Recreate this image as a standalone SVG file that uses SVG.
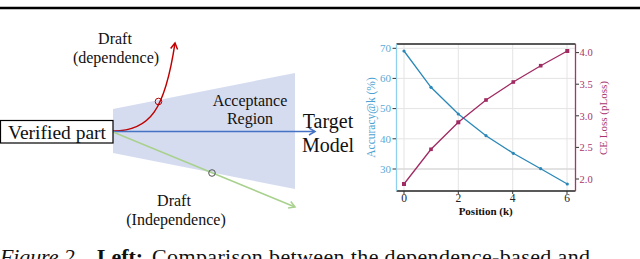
<svg xmlns="http://www.w3.org/2000/svg" width="640" height="259" viewBox="0 0 640 259">
<style>
.serif{font-family:"Liberation Serif","Times New Roman",serif;fill:#111}
.lbl{font-size:16px}
.grid{stroke:#e4e4e4;stroke-width:1}
.tl{font-family:"Liberation Serif",serif;font-size:11px;fill:#5aaad6}
.tr{font-family:"Liberation Serif",serif;font-size:10.5px;fill:#a8336e}
.acc{fill:none;stroke:#2a88b8;stroke-width:1.3}
.loss{fill:none;stroke:#a02a62;stroke-width:1.3}
</style>
<defs>
<marker id="mRed" markerWidth="10" markerHeight="10" refX="7" refY="4" orient="auto" markerUnits="userSpaceOnUse"><path d="M1,0.5 L7,4 L1,7.5" fill="none" stroke="#c00000" stroke-width="1.5"/></marker>
<marker id="mBlue" markerWidth="10" markerHeight="10" refX="7" refY="4" orient="auto" markerUnits="userSpaceOnUse"><path d="M1,0.5 L7,4 L1,7.5" fill="none" stroke="#4472c4" stroke-width="1.5"/></marker>
<marker id="mGreen" markerWidth="10" markerHeight="10" refX="7" refY="4" orient="auto" markerUnits="userSpaceOnUse"><path d="M1,0.5 L7,4 L1,7.5" fill="none" stroke="#a9d18e" stroke-width="1.5"/></marker>
</defs>
<rect width="640" height="259" fill="#fff"/>
<line x1="0" y1="8" x2="640" y2="8" stroke="#000" stroke-width="2.5"/>

<g id="acceptance-region">
<polygon points="113,109 295,73 295,189 113,153" fill="#d6dcf0"/>
<text class="serif lbl" x="250" y="106" text-anchor="middle">Acceptance</text>
<text class="serif lbl" x="250" y="124" text-anchor="middle">Region</text>
</g>

<g id="connectors">
<path d="M113,131 C150,131 165,110 175,43" fill="none" stroke="#c00000" stroke-width="1.5" marker-end="url(#mRed)"/>
<line x1="113" y1="131.5" x2="315" y2="131.5" stroke="#4472c4" stroke-width="1.5" marker-end="url(#mBlue)"/>
<line x1="113" y1="132" x2="295" y2="207" stroke="#a9d18e" stroke-width="1.5" marker-end="url(#mGreen)"/>
<circle cx="158.5" cy="101.5" r="3.3" fill="none" stroke="#c00000" stroke-width="1"/>
<circle cx="212" cy="173" r="3.3" fill="none" stroke="#555" stroke-width="1"/>
</g>

<g id="verified-part">
<rect x="0.5" y="120.5" width="112.5" height="22.5" fill="#fff" stroke="#000" stroke-width="1.2"/>
<text class="serif" x="57" y="139.3" font-size="19.5" text-anchor="middle">Verified part</text>
</g>

<g id="draft-dependence">
<text class="serif lbl" x="115" y="44" text-anchor="middle">Draft</text>
<text class="serif lbl" x="116" y="63" text-anchor="middle">(dependence)</text>
</g>

<g id="draft-independence">
<text class="serif lbl" x="174" y="206" text-anchor="middle">Draft</text>
<text class="serif lbl" x="176" y="225" text-anchor="middle">(Independence)</text>
</g>

<g id="target-model">
<text class="serif" x="328" y="128" font-size="20" text-anchor="middle">Target</text>
<text class="serif" x="328" y="151.5" font-size="20" text-anchor="middle">Model</text>
</g>

<g id="chart">
<g class="grid">
<line x1="404" y1="44" x2="404" y2="191"/>
<line x1="458.3" y1="44" x2="458.3" y2="191"/>
<line x1="512.7" y1="44" x2="512.7" y2="191"/>
<line x1="567" y1="44" x2="567" y2="191"/>
<line x1="397" y1="48.3" x2="575" y2="48.3"/>
<line x1="397" y1="78.4" x2="575" y2="78.4"/>
<line x1="397" y1="108.6" x2="575" y2="108.6"/>
<line x1="397" y1="138.8" x2="575" y2="138.8"/>
<line x1="397" y1="169" x2="575" y2="169" stroke="#d8d8d8" stroke-width="1.5"/>
</g>
<line x1="396.5" y1="44" x2="575.5" y2="44" stroke="#222" stroke-width="1.5"/>
<line x1="396.5" y1="191" x2="575.5" y2="191" stroke="#222" stroke-width="1.5"/>
<line x1="396.5" y1="44" x2="396.5" y2="191" stroke="#8fd0ee" stroke-width="1.3"/>
<line x1="575.5" y1="44" x2="575.5" y2="191" stroke="#a8336e" stroke-width="1.3"/>
<g stroke="#333" stroke-width="1">
<line x1="392.5" y1="48.3" x2="396" y2="48.3"/>
<line x1="392.5" y1="78.4" x2="396" y2="78.4"/>
<line x1="392.5" y1="108.6" x2="396" y2="108.6"/>
<line x1="392.5" y1="138.8" x2="396" y2="138.8"/>
<line x1="392.5" y1="169" x2="396" y2="169"/>
<line x1="576" y1="52.6" x2="579" y2="52.6"/>
<line x1="576" y1="84.2" x2="579" y2="84.2"/>
<line x1="576" y1="115.8" x2="579" y2="115.8"/>
<line x1="576" y1="147.4" x2="579" y2="147.4"/>
<line x1="576" y1="179" x2="579" y2="179"/>
<line x1="404" y1="191" x2="404" y2="194"/>
<line x1="458.3" y1="191" x2="458.3" y2="194"/>
<line x1="512.7" y1="191" x2="512.7" y2="194"/>
<line x1="567" y1="191" x2="567" y2="194"/>
</g>
<g class="tl" text-anchor="end">
<text x="391" y="52">70</text>
<text x="391" y="82">60</text>
<text x="391" y="112">50</text>
<text x="391" y="142.5">40</text>
<text x="391" y="172.5">30</text>
</g>
<g class="tr">
<text x="579.5" y="56.3">4.0</text>
<text x="579.5" y="88">3.5</text>
<text x="579.5" y="119.5">3.0</text>
<text x="579.5" y="151">2.5</text>
<text x="579.5" y="182.7">2.0</text>
</g>
<g font-family="Liberation Serif,serif" font-size="11.5" fill="#222" text-anchor="middle">
<text x="404" y="202">0</text>
<text x="458.3" y="202">2</text>
<text x="512.7" y="202">4</text>
<text x="567" y="202">6</text>
</g>
<text x="485.7" y="215" font-family="Liberation Serif,serif" font-size="11" font-weight="bold" fill="#111" text-anchor="middle">Position (k)</text>
<text transform="translate(375,117.5) rotate(-90)" font-family="Liberation Serif,serif" font-size="11.5" fill="#4ba3d3" text-anchor="middle">Accuracy@k (%)</text>
<text transform="translate(607,118) rotate(-90)" font-family="Liberation Serif,serif" font-size="11" fill="#a8336e" text-anchor="middle">CE Loss (pLoss)</text>
<polyline class="acc" points="404,51 431,87.3 458.3,114 486,135.7 513.3,153.3 540.7,168.7 567.3,184"/>
<polyline class="loss" points="404,184 431,149.3 458.3,122.3 486,100 513.3,82 540.7,65.7 567.3,51"/>
<g fill="#2a88b8">
<circle cx="404" cy="51" r="1.6"/><circle cx="431" cy="87.3" r="1.6"/><circle cx="458.3" cy="114" r="1.6"/><circle cx="486" cy="135.7" r="1.6"/><circle cx="513.3" cy="153.3" r="1.6"/><circle cx="540.7" cy="168.7" r="1.6"/><circle cx="567.3" cy="184" r="1.6"/>
</g>
<g fill="#a02a62">
<rect x="402" y="182" width="4" height="4"/><rect x="429.2" y="147.5" width="3.6" height="3.6"/><rect x="456.3" y="120.3" width="4" height="4"/><rect x="484.2" y="98.2" width="3.6" height="3.6"/><rect x="511.5" y="80.2" width="3.6" height="3.6"/><rect x="538.9" y="63.9" width="3.6" height="3.6"/><rect x="565.3" y="49" width="4" height="4"/>
</g>
</g>

<g id="caption" font-family="Liberation Serif,serif" font-size="22" fill="#111">
<text x="0" y="264" font-style="italic" textLength="80">Figure 2.</text>
<text x="97" y="264" font-weight="bold" textLength="46">Left:</text>
<text x="152" y="264" textLength="438">Comparison between the dependence-based and</text>
</g>
</svg>
